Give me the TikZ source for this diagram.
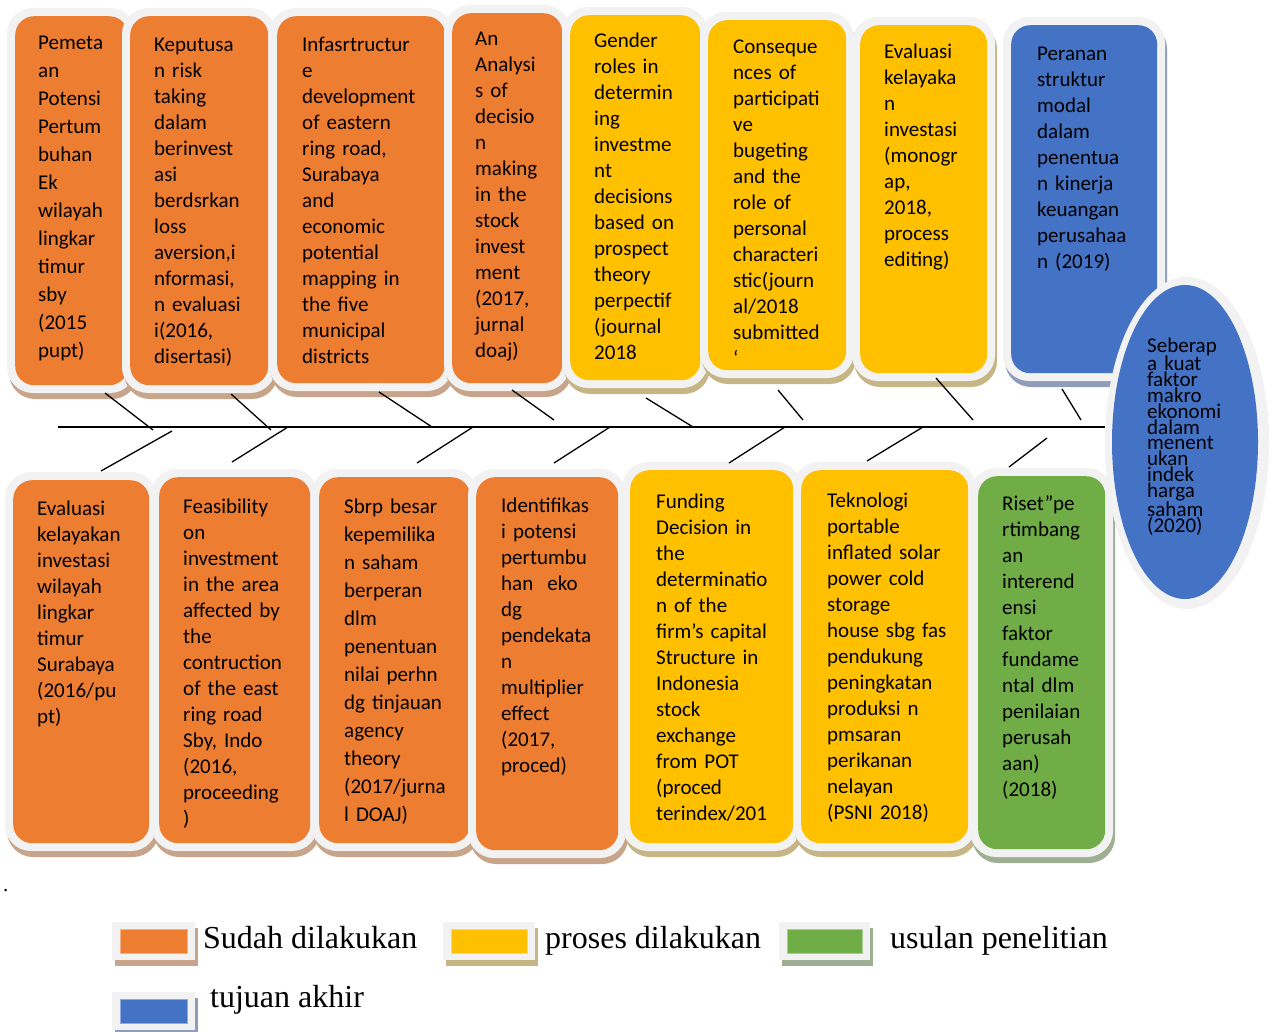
\documentclass[tikz,border=0pt]{standalone}
\usepackage{fontspec}
\setmainfont{Carlito}
\newfontfamily\legendfont{Liberation Serif}
\usetikzlibrary{shapes.geometric}

\definecolor{doneorange}{HTML}{ED7D31}
\definecolor{procyellow}{HTML}{FFC000}
\definecolor{propgreen}{HTML}{70AD47}
\definecolor{goalblue}{HTML}{4472C4}
\definecolor{boxrim}{HTML}{F2F2F2}
\definecolor{shorange}{HTML}{C8A48A}
\definecolor{shyellow}{HTML}{C6B585}
\definecolor{shgreen}{HTML}{9FAF93}
\definecolor{shblue}{HTML}{8F9DBB}

\tikzset{
  boxtext/.style={anchor=base west, inner sep=0pt, text width=200pt, align=left,
    font=\fontsize{21}{26}\selectfont, text=black},
  widelead/.style={font=\fontsize{21}{28}\selectfont},
  tightlead/.style={font=\fontsize{21}{15.8}\selectfont},
  bone/.style={line width=1.3pt, black},
  spine/.style={line width=1.6pt, black},
  legendtext/.style={anchor=base west, inner sep=0pt, text=black,
    font=\legendfont\fontsize{32}{36}\selectfont},
}

% rounded research box: name, x1, y1, x2, y2, fill, shadow
\newcommand\researchbox[7]{%
  \fill[#7, rounded corners=26pt] ({#2-8+2},{#3-8+6}) rectangle ({#4+8+2},{#5+8+6});
  \fill[boxrim, rounded corners=26pt] ({#2-8},{#3-8}) rectangle ({#4+8},{#5+8});
  \node[fill=#6, rounded corners=19pt, inner sep=0pt, anchor=north west,
        minimum width={(#4-#2)*1pt}, minimum height={(#5-#3)*1pt}] (#1) at (#2,#3) {};
}
% legend swatch: name, x1, y1, x2, y2, fill, shadow
\newcommand\legendswatch[7]{%
  \fill[#7] ({#2+3},{#3+6}) rectangle ({#4+3},{#5+6});
  \fill[boxrim] (#2,#3) rectangle (#4,#5);
  \node[fill=#6, draw=#6!60!white, line width=0.8pt, inner sep=0pt, anchor=north west,
        minimum width={(#4-#2-16)*1pt}, minimum height={(#5-#3-14)*1pt}] (#1) at ({#2+8},{#3+7}) {};
}

\begin{document}
% lines may overlap in the tightly set ellipse label
\lineskiplimit=-50pt
\begin{tikzpicture}[x=1pt, y=-1pt]
\useasboundingbox[fill=white] (0,0) rectangle (1274,1032);

% upper row of studies
\researchbox{b1}{15}{16}{128}{385}{doneorange}{shorange}
\researchbox{b2}{130}{16}{268}{385}{doneorange}{shorange}
\researchbox{b3}{277}{16}{445}{383}{doneorange}{shorange}
\researchbox{b4}{452}{13}{562}{383}{doneorange}{shorange}
\researchbox{b5}{570}{15}{700}{380}{procyellow}{shyellow}
\researchbox{b6}{708}{20}{846}{370}{procyellow}{shyellow}
\researchbox{b7}{860}{25}{987}{373}{procyellow}{shyellow}
\researchbox{b8}{1011}{25}{1157}{373}{goalblue}{shblue}

% lower row of studies
\researchbox{c1}{13}{480}{149}{843}{doneorange}{shorange}
\researchbox{c2}{159}{477}{310}{843}{doneorange}{shorange}
\researchbox{c3}{319}{477}{470}{843}{doneorange}{shorange}
\researchbox{c4}{476}{477}{618}{850}{doneorange}{shorange}
\researchbox{c5}{630}{470}{793}{843}{procyellow}{shyellow}
\researchbox{c6}{801}{470}{968}{843}{procyellow}{shyellow}
\researchbox{c7}{978}{476}{1105}{849}{propgreen}{shgreen}

% texts of the upper row
\node[boxtext, widelead] (b1t) at (38,50) {Pemeta\\an\\Potensi\\Pertum\\buhan\\Ek\\wilayah\\lingkar\\timur\\sby\\(2015\\pupt)};
\node[boxtext] (b2t) at (154,52) {Keputusa\\n risk\\taking\\dalam\\berinvest\\asi\\berdsrkan\\loss\\aversion,i\\nformasi,\\n evaluasi\\i(2016,\\disertasi)};
\node[boxtext] (b3t) at (302,52) {Infasrtructur\\e\\development\\of eastern\\ring road,\\Surabaya\\and\\economic\\potential\\mapping in\\the five\\municipal\\districts};
\node[boxtext] (b4t) at (475,46) {An\\Analysi\\s of\\decisio\\n\\making\\in the\\stock\\invest\\ment\\(2017,\\jurnal\\doaj)};
\node[boxtext] (b5t) at (594,48) {Gender\\roles in\\determin\\ing\\investme\\nt\\decisions\\based on\\prospect\\theory\\perpectif\\(journal\\2018};
\node[boxtext] (b6t) at (733,54) {Conseque\\nces of\\participati\\ve\\bugeting\\and the\\role of\\personal\\characteri\\stic(journ\\al/2018\\submitted\\`};
\node[boxtext] (b7t) at (884,59) {Evaluasi\\kelayaka\\n\\investasi\\(monogr\\ap,\\2018,\\process\\editing)};
\node[boxtext] (b8t) at (1037,61) {Peranan\\struktur\\modal\\dalam\\penentua\\n kinerja\\keuangan\\perusahaa\\n (2019)};

% texts of the lower row
\node[boxtext] (c1t) at (37,515) {Evaluasi\\kelayakan\\investasi\\wilayah\\lingkar\\timur\\Surabaya\\(2016/pu\\pt)};
\node[boxtext] (c2t) at (183,513) {Feasibility\\on\\investment\\in the area\\affected by\\the\\contruction\\of the east\\ring road\\Sby, Indo\\(2016,\\proceeding\\)};
\node[boxtext, widelead] (c3t) at (344,513) {Sbrp besar\\kepemilika\\n saham\\berperan\\dlm\\penentuan\\nilai perhn\\dg tinjauan\\agency\\theory\\(2017/jurna\\l DOAJ)};
\node[boxtext] (c4t) at (501,512) {Identifikas\\i potensi\\pertumbu\\han\ \ eko\\dg\\pendekata\\n\\multiplier\\effect\\(2017,\\proced)};
\node[boxtext] (c5t) at (656,508) {Funding\\Decision in\\the\\determinatio\\n of the\\firm's capital\\Structure in\\Indonesia\\stock\\exchange\\from POT\\(proced\\terindex/201};
\node[boxtext] (c6t) at (827,507) {Teknologi\\portable\\inflated solar\\power cold\\storage\\house sbg fas\\pendukung\\peningkatan\\produksi n\\pmsaran\\perikanan\\nelayan\\(PSNI 2018)};
\node[boxtext] (c7t) at (1002,510) {Riset''pe\\rtimbang\\an\\interend\\ensi\\faktor\\fundame\\ntal dlm\\penilaian\\perusah\\aan)\\(2018)};

% spine and bones
\node[ellipse, fill=boxrim, inner sep=0pt, minimum width=164pt, minimum height=332pt] (goalrim) at (1187,443) {};
\coordinate (tail) at (58,427);
\draw[spine] (tail) -- (goalrim.west |- tail);

\foreach \n/\ax/\ay/\bx/\by in {1/105/393/153/430, 2/231/394/271/430, 3/379/392/432/427,
    4/512/390/554/420, 5/646/398/693/427, 6/778/390/803/420, 7/936/378/973/420, 8/1062/389/1081/420}{
  \coordinate (upbone\n a) at (\ax,\ay);
  \coordinate (upbone\n b) at (\bx,\by);
  \draw[bone] (upbone\n a) -- (upbone\n b);
}
\foreach \n/\ax/\ay/\bx/\by in {1/172/431/101/471, 2/288/427/232/462, 3/473/427/417/463,
    4/610/427/554/463, 5/785/427/729/463, 6/923/427/867/461, 7/1047/438/1009/467}{
  \coordinate (lowbone\n a) at (\ax,\ay);
  \coordinate (lowbone\n b) at (\bx,\by);
  \draw[bone] (lowbone\n a) -- (lowbone\n b);
}

% final goal
\node[ellipse, fill=goalblue, inner sep=0pt, minimum width=146pt, minimum height=314pt] (goal) at (1185,442) {};
\node[boxtext, tightlead] (goalt) at (1147,352) {Seberap\\a kuat\\faktor\\makro\\ekonomi\\dalam\\menent\\ukan\\indek\\harga\\saham\\(2020)};

% stray full stop and legend
\node[legendtext, font=\legendfont\fontsize{21}{24}\selectfont] (dot) at (3,891) {.};
\legendswatch{sw1}{112}{922}{195}{960}{doneorange}{shorange}
\node[legendtext] (lg1) at (203,948) {Sudah dilakukan};
\legendswatch{sw2}{443}{922}{535}{960}{procyellow}{shyellow}
\node[legendtext] (lg2) at (545,948) {proses dilakukan};
\legendswatch{sw3}{779}{922}{870}{960}{propgreen}{shgreen}
\node[legendtext] (lg3) at (890,948) {usulan penelitian};
\legendswatch{sw4}{112}{992}{195}{1030}{goalblue}{shblue}
\node[legendtext] (lg4) at (210,1007) {tujuan akhir};
\end{tikzpicture}
\end{document}
